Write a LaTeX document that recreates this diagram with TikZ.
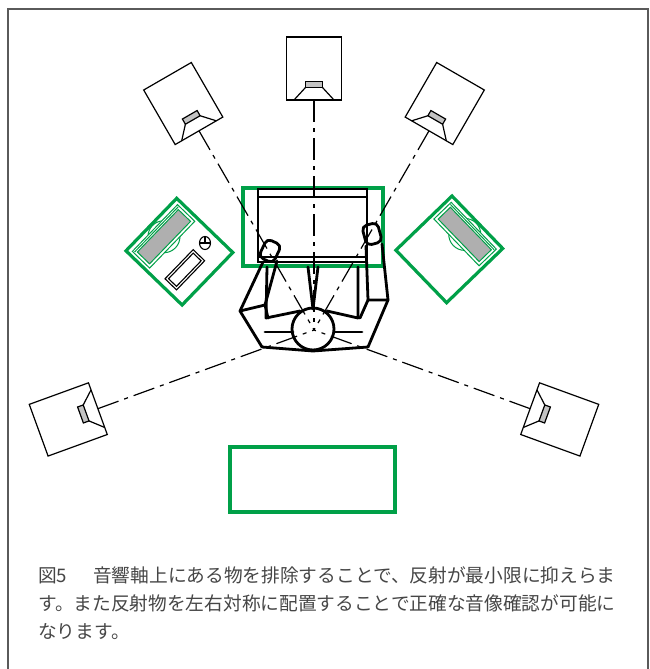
\documentclass[tikz,border=0pt]{standalone}
\usepackage{fontspec}
\newfontfamily\jpfont{Noto Sans CJK JP}
\usetikzlibrary{calc}
\definecolor{deskgreen}{RGB}{0,160,72}
\definecolor{drvgray}{RGB}{195,195,195}
\definecolor{scrgray}{RGB}{175,175,175}
\definecolor{framegray}{RGB}{90,90,90}
\definecolor{textgray}{RGB}{70,70,70}
% monitor stand, monitor body and desk top of a side desk (local frame)
\newcommand\sidedeskbody{%
  \draw[thingreen] (17.5,36.5) circle (16);
  \filldraw[thingreen,fill=white] (5,4) rectangle (29,69);
  \filldraw[thingreen,fill=scrgray] (9,7) rectangle (26,66);
  \draw[thingreen] (7,5) -- (7,68);
  \draw[desk] (0,0) rectangle (78,73);
}
\begin{document}
\begin{tikzpicture}[x=1pt,y=-1pt,
  frame/.style={draw=framegray,line width=1.3pt},
  spk/.style={draw=black,line width=1.2pt},
  axisline/.style={draw=black,line width=1.2pt,dash pattern=on 22pt off 6pt on 4pt off 6pt},
  body/.style={draw=black,line width=2.8pt,line join=round,line cap=round},
  desk/.style={draw=deskgreen,line width=3.2pt},
  thingreen/.style={draw=deskgreen,line width=1pt},
  console/.style={draw=black,line width=1.3pt},
  keyline/.style={draw=black,line width=1.1pt}]
\useasboundingbox (0,0) rectangle (650,669);
\fill[white] (0,0) rectangle (650,669);
\draw[frame] (8,672) -- (8,9) -- (648,9) -- (648,672);

% listening position
\coordinate (L) at (314,330);

% five loudspeakers on a circle round the listener
\foreach \a/\n in {0/C,30/FL,-30/FR,110/SL,-110/SR}{
  \begin{scope}[shift={(L)},rotate=\a]
    \draw[spk] (-27.5,-230) rectangle (27.5,-293);
    \draw[spk] (-20,-230) -- (-8.5,-242.5) (20,-230) -- (8.5,-242.5);
    \draw[spk,fill=drvgray] (-8.5,-242.5) rectangle (8.5,-248.5);
    \coordinate (face\n) at (0,-230);
  \end{scope}
}

% mixing console in front
\draw[desk] (243,188) rectangle (383,266);
\draw[console] (258,189) rectangle (367,262);
\draw[console] (258,197) -- (367,197) (258,257) -- (367,257);

% side desks
\begin{scope}[shift={(176.7,198.3)},rotate=-44]
  \sidedeskbody
  \draw[keyline] (47.5,25.5) rectangle (63.5,66);
  \draw[keyline] (50,28) rectangle (61,63.5);
\end{scope}
\draw[keyline] (205,243) ellipse [x radius=5.5,y radius=6.5];
\draw[keyline] (199.5,243) -- (210.5,243) (205,236.5) -- (205,243);
\begin{scope}[shift={(452,196)},xscale=-1,rotate=-44]
  \sidedeskbody
\end{scope}

% table behind
\draw[desk] (230,447) rectangle (395,512);

% axes from each speaker to the listener
\foreach \n in {C,FL,FR,SL,SR}{
  \draw[axisline] (face\n) -- (L);
}

% listener seen from above
\draw[body] (313,329) circle (21);
\draw[body,rounded corners=5pt,rotate around={-25:(270,251)}] (262,241) rectangle (278,261);
\draw[body,rounded corners=5pt,rotate around={15:(372,234)}] (364,224) rectangle (380,244);
% left arm
\draw[body] (263,262) -- (240,311) -- (262,347);
\draw[body] (277,261) -- (265,305) -- (240,311);
\draw[body] (265,305) -- (268,318);
% right arm
\draw[body] (382,244) -- (388,300) -- (368,347);
\draw[body] (366,246) -- (368,300) -- (388,300);
\draw[body] (368,300) -- (360,318);
% torso
\draw[body] (267,267) -- (266,318) -- (300,311);
\draw[body] (358,267) -- (358,318) -- (327,311);
\draw[body] (265,332) -- (293,332);
\draw[body] (334,332) -- (362,332);
\draw[body] (262,347) -- (313,351) -- (368,347);
\draw[body] (308,267) -- (313,309) -- (318,267);

% caption
\node[anchor=north west,inner sep=0pt,align=left,text=textgray,
      font=\jpfont\fontsize{18.7pt}{28pt}\selectfont]
  (cap) at (38,566)
  {図5\hspace{26pt}音響軸上にある物を排除することで、反射が最小限に抑えらま\\
   す。また反射物を左右対称に配置することで正確な音像確認が可能に\\
   なります。};
\end{tikzpicture}
\end{document}
